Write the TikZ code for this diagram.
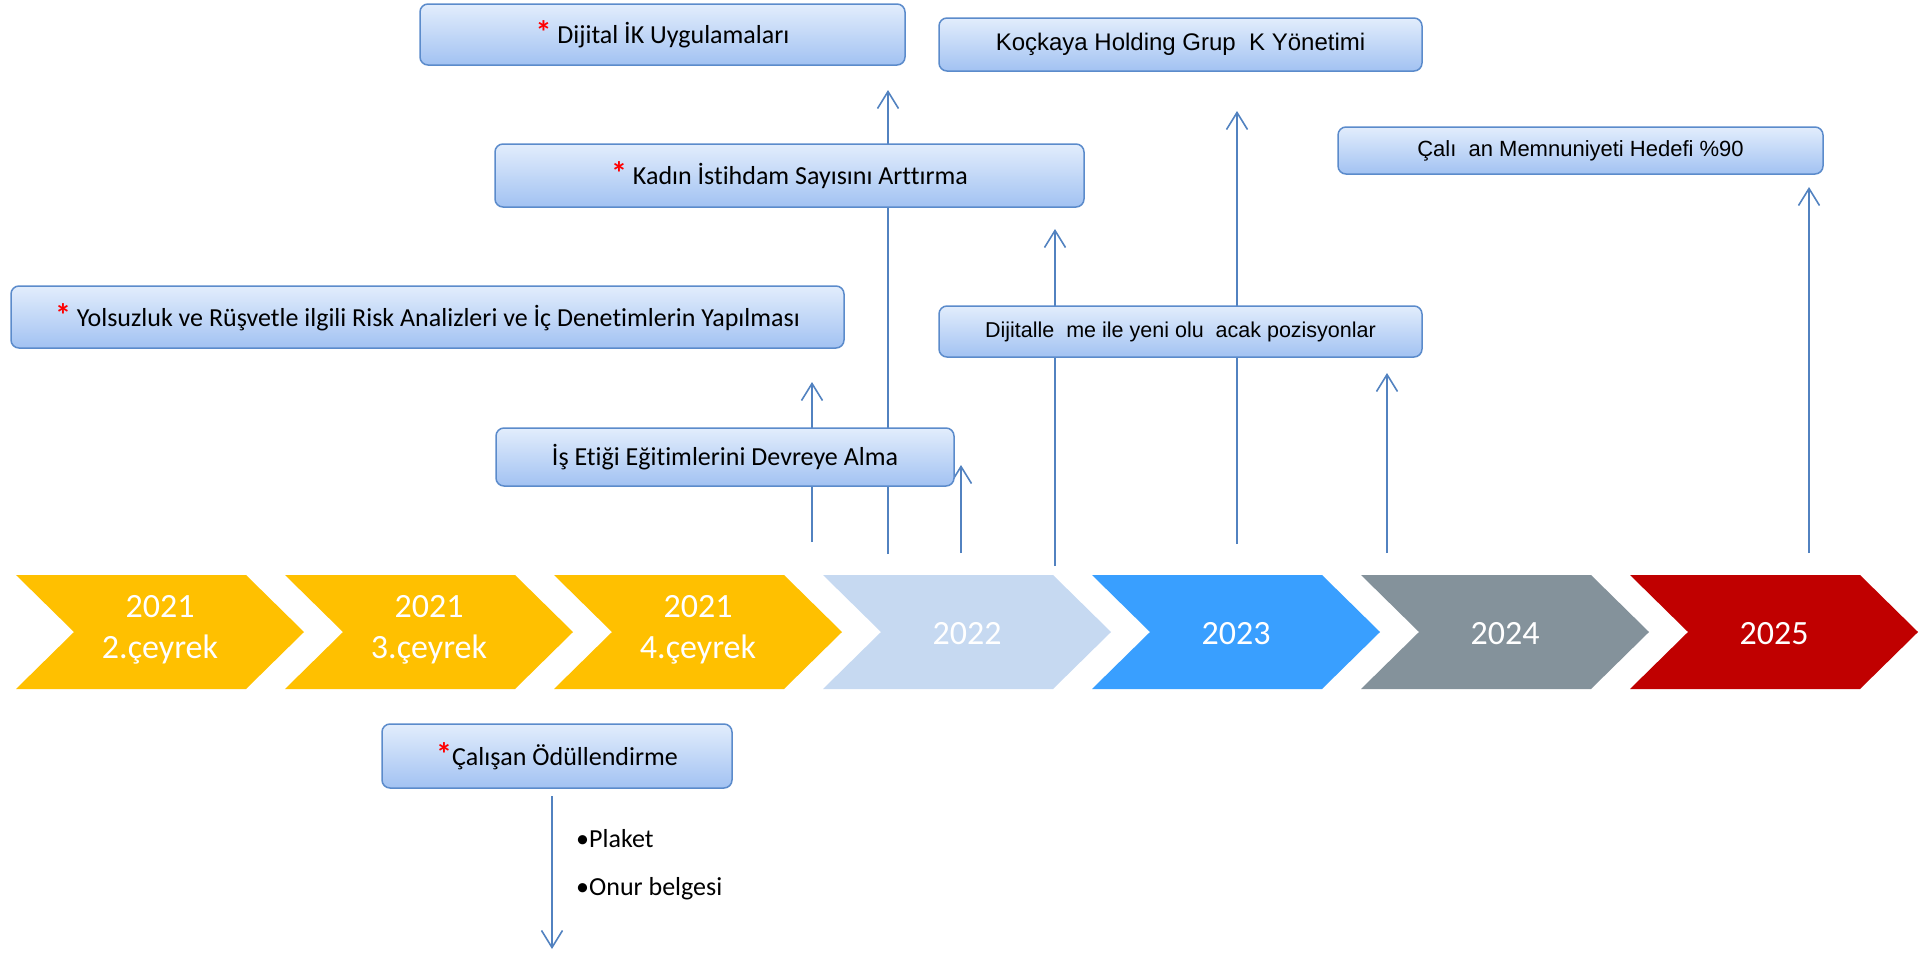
\documentclass[tikz,border=0pt]{standalone}
\usepackage{fontspec}
\setmainfont{Carlito}[Ligatures=NoCommon]
\newfontfamily\arialf{Liberation Sans}
\usetikzlibrary{arrows.meta}
\definecolor{cyellow}{HTML}{FFC000}
\definecolor{clight}{HTML}{C6D9F1}
\definecolor{cblue}{HTML}{399FFF}
\definecolor{cgray}{HTML}{84929B}
\definecolor{cred}{HTML}{C00000}
\definecolor{boxtop}{HTML}{E2EDFC}
\definecolor{boxbot}{HTML}{A2C2F2}
\definecolor{boxline}{HTML}{5B8BCB}
\definecolor{arrcol}{HTML}{5282C0}
\newcommand{\rast}{\textcolor{red}{\bfseries\fontsize{32}{32}\selectfont *}}
\newcommand{\chevshape}[2]{\fill[#2] (#1,575) -- ++(230,0) -- ++(58,57) -- ++(-58,57) -- ++(-230,0) -- ++(58,-57) -- cycle;}
\begin{document}
\begin{tikzpicture}[x=1pt,y=-1pt,
  box/.style={draw=boxline, line width=1.5pt, rounded corners=8pt, top color=boxtop, bottom color=boxbot, inner sep=0pt, align=center},
  cal/.style={font=\fontsize{26}{31}\selectfont},
  ari/.style={font=\arialf\fontsize{24}{28}\selectfont},
  aris/.style={font=\arialf\fontsize{21.5}{26}\selectfont},
  yr/.style={text=white, align=center, font=\fontsize{34}{41}\selectfont},
  arr/.style={draw=arrcol, line width=1.8pt, -{Straight Barb[length=17pt,width=21pt,line width=1.6pt]}},
  bul/.style={anchor=base west, inner sep=0pt, font=\fontsize{26}{31}\selectfont}]
\useasboundingbox (0,0) rectangle (1930,953);
% chevrons
\chevshape{16}{cyellow}
\chevshape{285}{cyellow}
\chevshape{554}{cyellow}
\chevshape{823}{clight}
\chevshape{1092}{cblue}
\chevshape{1361}{cgray}
\chevshape{1630}{cred}
\node[yr] (y1) at (160,630) {2021\\2.çeyrek};
\node[yr] (y2) at (429,630) {2021\\3.çeyrek};
\node[yr] (y3) at (698,630) {2021\\4.çeyrek};
\node[yr] (y4) at (967,634) {2022};
\node[yr] (y5) at (1236,634) {2023};
\node[yr] (y6) at (1505,634) {2024};
\node[yr] (y7) at (1774,634) {2025};
% arrow end points
\coordinate (a0) at (812,542); \coordinate (a1) at (812,382);
\coordinate (b0) at (888,554); \coordinate (b1) at (888,90);
\coordinate (c0) at (961,553); \coordinate (c1) at (961,465);
\coordinate (d0) at (1055,566); \coordinate (d1) at (1055,229);
\coordinate (e0) at (1237,544); \coordinate (e1) at (1237,111);
\coordinate (f0) at (1387,553); \coordinate (f1) at (1387,373);
\coordinate (g0) at (1809,553); \coordinate (g1) at (1809,187);
\coordinate (h0) at (552,796); \coordinate (h1) at (552,949);
\draw[arr] (a0) -- (a1);
\draw[arr] (b0) -- (b1);
\draw[arr] (c0) -- (c1);
\draw[arr] (d0) -- (d1);
\draw[arr] (e0) -- (e1);
\draw[arr] (f0) -- (f1);
\draw[arr] (g0) -- (g1);
\draw[arr] (h0) -- (h1);
% boxes
\node[box, cal, minimum width=485, minimum height=61] (dik) at (662.5,34.5) {\rast\ Dijital İK Uygulamaları};
\node[box, ari, minimum width=483, minimum height=53] (koc) at (1180.5,44.5) {Koçkaya Holding Grup\ \ K Yönetimi};
\node[box, aris, font=\arialf\fontsize{22}{26}\selectfont, minimum width=485, minimum height=47] (cal) at (1580.5,150.5) {Çalı\ \ an Memnuniyeti Hedefi \%90};
\node[box, cal, minimum width=589, minimum height=63] (kad) at (789.5,175.5) {\rast\ Kadın İstihdam Sayısını Arttırma};
\node[box, cal, minimum width=833, minimum height=62] (yol) at (427.5,317) {\rast\ Yolsuzluk ve Rüşvetle ilgili Risk Analizleri ve İç Denetimlerin Yapılması};
\node[box, aris, minimum width=483, minimum height=51] (dij) at (1180.5,331.5) {Dijitalle\ \ me ile yeni olu\ \ acak pozisyonlar};
\node[box, cal, minimum width=458, minimum height=58] (ise) at (725,457) {İş Etiği Eğitimlerini Devreye Alma};
\node[box, cal, minimum width=350, minimum height=64] (odl) at (557,756) {\rast Çalışan Ödüllendirme};
% bullets
\node[bul] (p1) at (576,847) {•Plaket};
\node[bul] (p2) at (576,895) {•Onur belgesi};
\end{tikzpicture}
\end{document}
